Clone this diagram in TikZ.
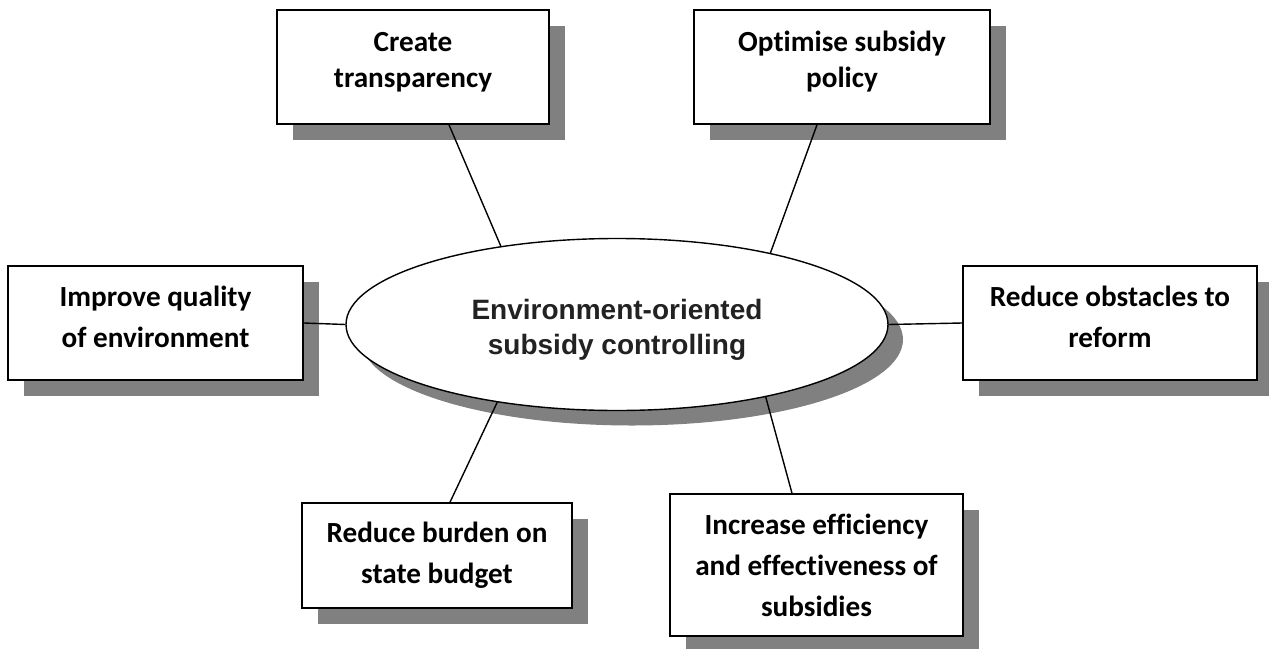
\documentclass[tikz,border=0pt]{standalone}
\usepackage{fontspec}
\setmainfont{Carlito}[Ligatures=NoCommon]
\newfontfamily\hubfont{Liberation Sans}
\usetikzlibrary{shapes.geometric,shadows,calc}
\definecolor{shadowgray}{HTML}{808080}
\definecolor{hubtext}{HTML}{222222}
\begin{document}
\begin{tikzpicture}[x=1pt,y=-1pt,
  goalbox/.style={draw=black,line width=1.6pt,fill=white,inner sep=0pt,
    drop shadow={shadow xshift=16pt,shadow yshift=-16pt,fill=shadowgray,opacity=1}},
  goaltext/.style={inner sep=0pt,align=center,text=black},
  tight/.style={font=\bfseries\fontsize{29.2}{36}\selectfont},
  loose/.style={font=\bfseries\fontsize{29.2}{41}\selectfont},
  hub/.style={ellipse,draw=black,line width=1.4pt,fill=white,inner sep=0pt,
    minimum width=542pt,minimum height=172pt,
    drop shadow={shadow xshift=15pt,shadow yshift=-15pt,fill=shadowgray,opacity=1}},
  hubtext/.style={inner sep=0pt,align=center,text=hubtext,
    font=\hubfont\bfseries\fontsize{28}{35}\selectfont},
  link/.style={draw=black,line width=1.4pt}]
\useasboundingbox (0,0) rectangle (1269,648);
\clip (0,0) rectangle (1269,648);

% outer goal boxes
\node[goalbox,minimum width=272pt,minimum height=114pt] (ct) at (413,67) {};
\node[goalbox,minimum width=296pt,minimum height=114pt] (op) at (842,67) {};
\node[goalbox,minimum width=295pt,minimum height=114pt] (im) at (155.5,323) {};
\node[goalbox,minimum width=294pt,minimum height=114pt] (ro) at (1110,323) {};
\node[goalbox,minimum width=270pt,minimum height=105pt] (rb) at (437,555.5) {};
\node[goalbox,minimum width=293pt,minimum height=142pt] (ie) at (816.5,565) {};

% box captions
\node[goaltext,tight] (ct-t) at (413,62) {Create\\transparency};
\node[goaltext,tight] (op-t) at (842,62) {Optimise subsidy\\policy};
\node[goaltext,loose] (im-t) at (155.5,317) {Improve quality\\of environment};
\node[goaltext,loose] (ro-t) at (1110,317) {Reduce obstacles to\\reform};
\node[goaltext,loose] (rb-t) at (437,555.5) {Reduce burden on\\state budget};
\node[goaltext,loose] (ie-t) at (816.5,565) {Increase efficiency\\and effectiveness of\\subsidies};

% central ellipse
\node[hub] (hub) at (617,324.5) {};
\node[hubtext] (hub-t) at (617,330) {Environment-oriented\\subsidy controlling};

% spokes
\draw[link] ($(ct.south)+(36,0)$) -- (hub.146.9);
\draw[link] ($(op.south)+(-25,0)$) -- (hub.25.5);
\draw[link] (im.east) -- (hub.west);
\draw[link] (hub.east) -- (ro.west);
\draw[link] ($(rb.north)+(13,0)$) -- (hub.213.1);
\draw[link] ($(ie.north)+(-24.5,0)$) -- (hub.334.5);
\end{tikzpicture}
\end{document}
